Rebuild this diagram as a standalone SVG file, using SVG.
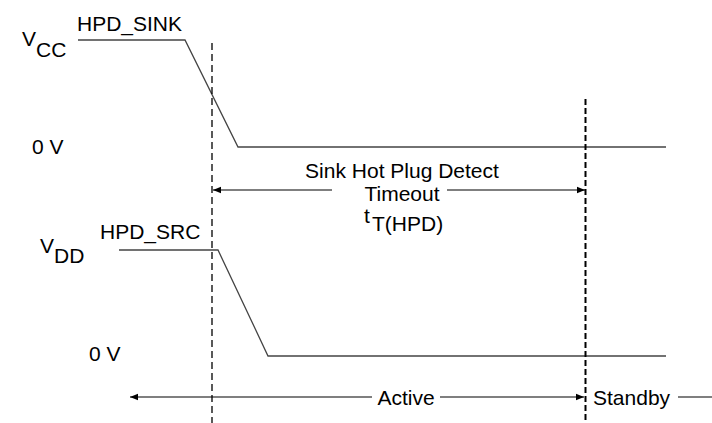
<svg xmlns="http://www.w3.org/2000/svg" width="712" height="423" viewBox="0 0 712 423">
<defs>
<style>
text{font-family:"Liberation Sans",Arial,sans-serif;font-size:21px;fill:#000}
.sig{fill:none;stroke:#444;stroke-width:1.3}
.dash{fill:none;stroke:#000;stroke-width:1.3;stroke-dasharray:7,4}
.dash2{fill:none;stroke:#000;stroke-width:2;stroke-dasharray:6,3}
.arr{fill:none;stroke:#000;stroke-width:1.2}
.mid{text-anchor:middle}
</style>
<marker id="ah" viewBox="0 0 10 10" refX="10" refY="5" markerWidth="8" markerHeight="8" markerUnits="userSpaceOnUse" orient="auto-start-reverse">
<path d="M0,1 L10,5 L0,9 Z" fill="#000"/>
</marker>
</defs>
<rect width="712" height="423" fill="#fff"/>
<g id="hpd_sink">
<polyline class="sig" points="78,40 185,40 238,147 666,147"/>
<text x="77" y="31">HPD_SINK</text>
<text x="22" y="46">V</text><text x="36" y="57">CC</text>
<text x="32" y="154">0 V</text>
</g>
<g id="hpd_src">
<polyline class="sig" points="119,250 218,250 268,356 666,356"/>
<text x="100" y="239">HPD_SRC</text>
<text x="40" y="253">V</text><text x="54" y="263">DD</text>
<text x="89" y="361">0 V</text>
</g>
<g id="markers">
<line class="dash" x1="212" y1="43" x2="212" y2="423"/>
<line class="dash2" x1="585.5" y1="99" x2="585.5" y2="423"/>
</g>
<g id="timeout">
<text class="mid" x="402" y="178">Sink Hot Plug Detect</text>
<text class="mid" x="402" y="201">Timeout</text>
<text x="364" y="223">t</text><text x="372" y="231">T(HPD)</text>
</g>
<g id="connectors">
<line class="arr" x1="332" y1="190" x2="213" y2="190" marker-end="url(#ah)"/>
<line class="arr" x1="447" y1="190" x2="585" y2="190" marker-end="url(#ah)"/>
<line class="arr" x1="372" y1="397" x2="130" y2="397" marker-end="url(#ah)"/>
<line class="arr" x1="440" y1="397" x2="584" y2="397" marker-end="url(#ah)"/>
<line class="arr" x1="678" y1="397" x2="712" y2="397"/>
</g>
<g id="states">
<text class="mid" x="406" y="405">Active</text>
<text x="593" y="405">Standby</text>
</g>
</svg>
